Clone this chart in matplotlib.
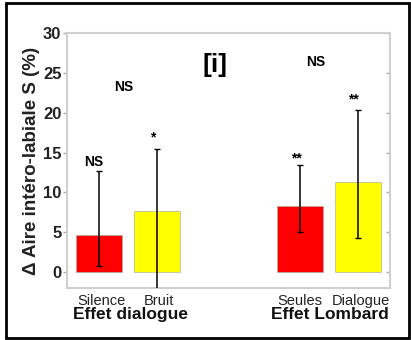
import numpy as np
import matplotlib
matplotlib.use("Agg")
import matplotlib.pyplot as plt
from matplotlib.patches import Rectangle
from matplotlib.transforms import blended_transform_factory

plt.rcParams['font.family'] = ['Liberation Sans', 'DejaVu Sans']

# data
conditions = ["Silence", "Bruit", "Seules", "Dialogue"]
positions = [0, 1, 3.5, 4.5]
values = [4.7, 7.7, 8.3, 11.3]
err_low = [0.7, -3.0, 5.0, 4.3]
err_high = [12.7, 15.4, 13.4, 20.4]
colors = ["#ff0000", "#ffff00", "#ff0000", "#ffff00"]

sig_labels = ["NS", "*", "**", "**"]
sig_y = [13.8, 16.9, 14.3, 21.7]
sig_x = [-0.09, 0.94, 3.44, 4.42]

group_labels = ["Effet dialogue", "Effet Lombard"]
group_x = [0.54, 4.02]
group_ns_x = [0.43, 3.76]
group_ns_y = [23.2, 26.4]

fig = plt.figure(figsize=(4.11, 3.4), dpi=100)
ax = fig.add_axes([67 / 411, 1 - 288 / 340, 323 / 411, 255 / 340])

ax.bar(positions, values, width=0.8, color=colors, edgecolor="#b0b0a0", linewidth=0.5, zorder=2)
values = np.array(values)
yerr = [values - np.array(err_low), np.array(err_high) - values]
ax.errorbar(positions, values, yerr=yerr, fmt="none", ecolor="black", elinewidth=1.1,
            capsize=2, capthick=1, zorder=3)

for x, y, s in zip(sig_x, sig_y, sig_labels):
    ax.text(x, y, s, ha="center", va="center", fontsize=10, fontweight="bold")
for x, y in zip(group_ns_x, group_ns_y):
    ax.text(x, y, "NS", ha="center", va="center", fontsize=10, fontweight="bold")
ax.text(2.02, 26.0, "[i]", ha="center", va="center", fontsize=19, fontweight="bold")

ax.set_xlim(-0.557, 5.06)
ax.set_ylim(-2, 30)
ax.set_yticks([0, 5, 10, 15, 20, 25, 30])
ax.set_xticks([0.05, 1.05, 3.5, 4.55])
ax.set_xticklabels(conditions, fontsize=10.5, color="#222222")
ax.tick_params(axis="x", length=0, pad=4)
ax.tick_params(axis="y", labelsize=12, colors="#aaaaaa", labelcolor="#222222",
               length=3, width=1, direction="out", pad=1)
for lab in ax.get_yticklabels():
    lab.set_fontweight("bold")
ax.tick_params(axis="y", right=True)
for t in ax.yaxis.get_major_ticks():
    t.tick2line.set_marker(matplotlib.lines.TICKLEFT)

for sp in ax.spines.values():
    sp.set_color("#d0d0d0")
    sp.set_linewidth(1.5)

trans = blended_transform_factory(ax.transData, ax.transAxes)
for x, s in zip(group_x, group_labels):
    ax.text(x, -0.102, s, transform=trans, ha="center", va="center",
            fontsize=12.5, fontweight="bold", color="#111111")

ax.set_ylabel("\u0394 Aire intéro-labiale S (%)", fontsize=13.5, fontweight="bold",
              color="#222222", labelpad=2)

fig.patches.append(Rectangle((6 / 411, 2 / 340), 403 / 411, 335 / 340,
                             transform=fig.transFigure, fill=False,
                             edgecolor="black", linewidth=2))

fig.savefig("out.png", dpi=100)
